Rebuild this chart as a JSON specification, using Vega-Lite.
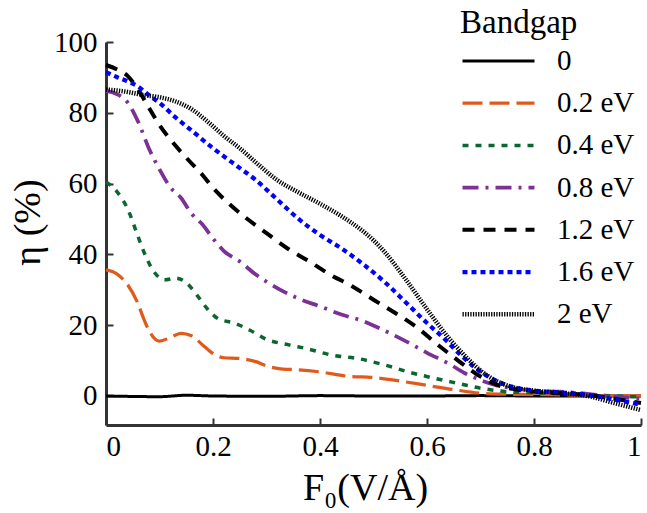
{
  "$schema": "https://vega.github.io/schema/vega-lite/v6.json",
  "width": 535,
  "height": 383,
  "autosize": {"type": "none"},
  "padding": {"left": 106, "top": 42, "right": 6, "bottom": 88},
  "background": "white",
  "config": {
    "font": "Liberation Serif, DejaVu Serif, Times, serif",
    "view": {"stroke": null},
    "axis": {"grid": false, "domainColor": "#333333", "domainWidth": 3, "tickColor": "#333333", "tickWidth": 2, "labelColor": "black", "titleColor": "black", "labelFont": "Liberation Serif, DejaVu Serif, Times, serif", "titleFont": "Liberation Serif, DejaVu Serif, Times, serif", "labelFontSize": 29, "titleFontSize": 38, "titleFontWeight": "normal"},
    "legend": {"labelFont": "Liberation Serif, DejaVu Serif, Times, serif", "titleFont": "Liberation Serif, DejaVu Serif, Times, serif", "labelFontSize": 29, "titleFontSize": 33, "titleFontWeight": "normal", "labelColor": "black", "titleColor": "black"}
  },
  "data": {"values": [
    {"x":0,"y":0,"g":"0"},{"x":0.1,"y":-0.2,"g":"0"},{"x":0.15,"y":0.2,"g":"0"},{"x":0.2,"y":0,"g":"0"},{"x":0.3,"y":-0.1,"g":"0"},{"x":0.4,"y":0.1,"g":"0"},{"x":0.5,"y":0,"g":"0"},{"x":0.6,"y":0,"g":"0"},{"x":0.7,"y":0.1,"g":"0"},{"x":0.8,"y":0,"g":"0"},{"x":0.9,"y":0,"g":"0"},{"x":1,"y":0,"g":"0"},

    {"x":0,"y":35.6,"g":"0.2 eV"},{"x":0.02,"y":34.5,"g":"0.2 eV"},{"x":0.04,"y":31.5,"g":"0.2 eV"},{"x":0.06,"y":26,"g":"0.2 eV"},{"x":0.07,"y":22,"g":"0.2 eV"},{"x":0.08,"y":18.6,"g":"0.2 eV"},{"x":0.1,"y":15.5,"g":"0.2 eV"},{"x":0.12,"y":16.5,"g":"0.2 eV"},{"x":0.14,"y":17.7,"g":"0.2 eV"},{"x":0.16,"y":17,"g":"0.2 eV"},{"x":0.18,"y":14.5,"g":"0.2 eV"},{"x":0.2,"y":12,"g":"0.2 eV"},{"x":0.22,"y":10.8,"g":"0.2 eV"},{"x":0.25,"y":10.6,"g":"0.2 eV"},{"x":0.28,"y":9.7,"g":"0.2 eV"},{"x":0.3,"y":8.5,"g":"0.2 eV"},{"x":0.33,"y":7.6,"g":"0.2 eV"},{"x":0.36,"y":7.4,"g":"0.2 eV"},{"x":0.4,"y":6.8,"g":"0.2 eV"},{"x":0.45,"y":5.6,"g":"0.2 eV"},{"x":0.5,"y":5.2,"g":"0.2 eV"},{"x":0.55,"y":4.2,"g":"0.2 eV"},{"x":0.6,"y":3,"g":"0.2 eV"},{"x":0.65,"y":1.8,"g":"0.2 eV"},{"x":0.7,"y":0.8,"g":"0.2 eV"},{"x":0.75,"y":0.5,"g":"0.2 eV"},{"x":0.8,"y":0.4,"g":"0.2 eV"},{"x":0.85,"y":0.3,"g":"0.2 eV"},{"x":0.9,"y":0.2,"g":"0.2 eV"},{"x":0.95,"y":0,"g":"0.2 eV"},{"x":1,"y":0,"g":"0.2 eV"},

    {"x":0,"y":60.5,"g":"0.4 eV"},{"x":0.02,"y":57.8,"g":"0.4 eV"},{"x":0.04,"y":53,"g":"0.4 eV"},{"x":0.06,"y":45,"g":"0.4 eV"},{"x":0.07,"y":41,"g":"0.4 eV"},{"x":0.09,"y":35,"g":"0.4 eV"},{"x":0.11,"y":32.8,"g":"0.4 eV"},{"x":0.13,"y":33.3,"g":"0.4 eV"},{"x":0.15,"y":32,"g":"0.4 eV"},{"x":0.17,"y":28.5,"g":"0.4 eV"},{"x":0.19,"y":24.5,"g":"0.4 eV"},{"x":0.21,"y":21.8,"g":"0.4 eV"},{"x":0.24,"y":20.6,"g":"0.4 eV"},{"x":0.27,"y":18.5,"g":"0.4 eV"},{"x":0.3,"y":16,"g":"0.4 eV"},{"x":0.34,"y":14.5,"g":"0.4 eV"},{"x":0.38,"y":13.2,"g":"0.4 eV"},{"x":0.42,"y":11.6,"g":"0.4 eV"},{"x":0.47,"y":10.6,"g":"0.4 eV"},{"x":0.52,"y":8.8,"g":"0.4 eV"},{"x":0.57,"y":6.6,"g":"0.4 eV"},{"x":0.62,"y":4.8,"g":"0.4 eV"},{"x":0.66,"y":3.5,"g":"0.4 eV"},{"x":0.7,"y":2.2,"g":"0.4 eV"},{"x":0.75,"y":1.2,"g":"0.4 eV"},{"x":0.8,"y":0.9,"g":"0.4 eV"},{"x":0.85,"y":0.6,"g":"0.4 eV"},{"x":0.9,"y":0.4,"g":"0.4 eV"},{"x":0.95,"y":0,"g":"0.4 eV"},{"x":1,"y":-0.3,"g":"0.4 eV"},

    {"x":0,"y":86.2,"g":"0.8 eV"},{"x":0.02,"y":85.3,"g":"0.8 eV"},{"x":0.04,"y":83,"g":"0.8 eV"},{"x":0.06,"y":77.5,"g":"0.8 eV"},{"x":0.08,"y":70,"g":"0.8 eV"},{"x":0.1,"y":64,"g":"0.8 eV"},{"x":0.12,"y":59,"g":"0.8 eV"},{"x":0.14,"y":56,"g":"0.8 eV"},{"x":0.16,"y":51.5,"g":"0.8 eV"},{"x":0.18,"y":48.5,"g":"0.8 eV"},{"x":0.2,"y":44.5,"g":"0.8 eV"},{"x":0.22,"y":41,"g":"0.8 eV"},{"x":0.25,"y":38,"g":"0.8 eV"},{"x":0.28,"y":34.3,"g":"0.8 eV"},{"x":0.32,"y":30.5,"g":"0.8 eV"},{"x":0.36,"y":27.5,"g":"0.8 eV"},{"x":0.4,"y":25.3,"g":"0.8 eV"},{"x":0.44,"y":23,"g":"0.8 eV"},{"x":0.48,"y":21.2,"g":"0.8 eV"},{"x":0.52,"y":18.5,"g":"0.8 eV"},{"x":0.56,"y":15.5,"g":"0.8 eV"},{"x":0.6,"y":12.2,"g":"0.8 eV"},{"x":0.64,"y":9.2,"g":"0.8 eV"},{"x":0.67,"y":6.5,"g":"0.8 eV"},{"x":0.7,"y":4.5,"g":"0.8 eV"},{"x":0.73,"y":3,"g":"0.8 eV"},{"x":0.76,"y":2.2,"g":"0.8 eV"},{"x":0.8,"y":1.5,"g":"0.8 eV"},{"x":0.85,"y":1.2,"g":"0.8 eV"},{"x":0.9,"y":0.6,"g":"0.8 eV"},{"x":0.95,"y":-0.2,"g":"0.8 eV"},{"x":1,"y":-0.8,"g":"0.8 eV"},

    {"x":0,"y":93.5,"g":"1.2 eV"},{"x":0.02,"y":92.3,"g":"1.2 eV"},{"x":0.04,"y":90.5,"g":"1.2 eV"},{"x":0.06,"y":86.5,"g":"1.2 eV"},{"x":0.08,"y":81.5,"g":"1.2 eV"},{"x":0.1,"y":76.5,"g":"1.2 eV"},{"x":0.12,"y":72.5,"g":"1.2 eV"},{"x":0.15,"y":67.3,"g":"1.2 eV"},{"x":0.18,"y":62.5,"g":"1.2 eV"},{"x":0.2,"y":58.8,"g":"1.2 eV"},{"x":0.23,"y":54.3,"g":"1.2 eV"},{"x":0.26,"y":50.5,"g":"1.2 eV"},{"x":0.3,"y":46,"g":"1.2 eV"},{"x":0.34,"y":41.6,"g":"1.2 eV"},{"x":0.38,"y":38,"g":"1.2 eV"},{"x":0.42,"y":34.2,"g":"1.2 eV"},{"x":0.46,"y":31,"g":"1.2 eV"},{"x":0.5,"y":27.2,"g":"1.2 eV"},{"x":0.54,"y":23.5,"g":"1.2 eV"},{"x":0.58,"y":19.5,"g":"1.2 eV"},{"x":0.62,"y":14.5,"g":"1.2 eV"},{"x":0.66,"y":9.8,"g":"1.2 eV"},{"x":0.7,"y":5.5,"g":"1.2 eV"},{"x":0.73,"y":3.2,"g":"1.2 eV"},{"x":0.76,"y":2,"g":"1.2 eV"},{"x":0.8,"y":1.2,"g":"1.2 eV"},{"x":0.85,"y":0.8,"g":"1.2 eV"},{"x":0.9,"y":0.3,"g":"1.2 eV"},{"x":0.95,"y":-0.8,"g":"1.2 eV"},{"x":1,"y":-2,"g":"1.2 eV"},

    {"x":0,"y":91.5,"g":"1.6 eV"},{"x":0.02,"y":90.1,"g":"1.6 eV"},{"x":0.04,"y":88.9,"g":"1.6 eV"},{"x":0.06,"y":87.4,"g":"1.6 eV"},{"x":0.08,"y":85,"g":"1.6 eV"},{"x":0.1,"y":82.8,"g":"1.6 eV"},{"x":0.13,"y":78.7,"g":"1.6 eV"},{"x":0.16,"y":75,"g":"1.6 eV"},{"x":0.2,"y":70,"g":"1.6 eV"},{"x":0.24,"y":65.5,"g":"1.6 eV"},{"x":0.28,"y":61,"g":"1.6 eV"},{"x":0.32,"y":55.5,"g":"1.6 eV"},{"x":0.36,"y":50,"g":"1.6 eV"},{"x":0.4,"y":45.5,"g":"1.6 eV"},{"x":0.44,"y":41.7,"g":"1.6 eV"},{"x":0.48,"y":37.3,"g":"1.6 eV"},{"x":0.52,"y":32.3,"g":"1.6 eV"},{"x":0.56,"y":26.5,"g":"1.6 eV"},{"x":0.6,"y":20.6,"g":"1.6 eV"},{"x":0.63,"y":16.5,"g":"1.6 eV"},{"x":0.66,"y":12,"g":"1.6 eV"},{"x":0.69,"y":8,"g":"1.6 eV"},{"x":0.72,"y":5,"g":"1.6 eV"},{"x":0.75,"y":3,"g":"1.6 eV"},{"x":0.8,"y":1.5,"g":"1.6 eV"},{"x":0.85,"y":1,"g":"1.6 eV"},{"x":0.9,"y":0.3,"g":"1.6 eV"},{"x":0.95,"y":-1,"g":"1.6 eV"},{"x":1,"y":-2.5,"g":"1.6 eV"},

    {"x":0,"y":86.6,"g":"2 eV"},{"x":0.04,"y":85.9,"g":"2 eV"},{"x":0.07,"y":85,"g":"2 eV"},{"x":0.1,"y":84.4,"g":"2 eV"},{"x":0.13,"y":83.2,"g":"2 eV"},{"x":0.16,"y":81,"g":"2 eV"},{"x":0.19,"y":77.5,"g":"2 eV"},{"x":0.22,"y":73.5,"g":"2 eV"},{"x":0.25,"y":70,"g":"2 eV"},{"x":0.28,"y":66,"g":"2 eV"},{"x":0.32,"y":61,"g":"2 eV"},{"x":0.36,"y":57.5,"g":"2 eV"},{"x":0.4,"y":54.3,"g":"2 eV"},{"x":0.44,"y":50.8,"g":"2 eV"},{"x":0.48,"y":46.6,"g":"2 eV"},{"x":0.5,"y":44,"g":"2 eV"},{"x":0.52,"y":40.8,"g":"2 eV"},{"x":0.56,"y":33,"g":"2 eV"},{"x":0.6,"y":24.5,"g":"2 eV"},{"x":0.64,"y":16.5,"g":"2 eV"},{"x":0.67,"y":11.5,"g":"2 eV"},{"x":0.7,"y":7.2,"g":"2 eV"},{"x":0.73,"y":4.2,"g":"2 eV"},{"x":0.76,"y":2.5,"g":"2 eV"},{"x":0.8,"y":1.5,"g":"2 eV"},{"x":0.85,"y":0.8,"g":"2 eV"},{"x":0.9,"y":0,"g":"2 eV"},{"x":0.95,"y":-2,"g":"2 eV"},{"x":1,"y":-4,"g":"2 eV"}
  ]},
  "mark": {"type": "line", "interpolate": "monotone", "strokeCap": "butt"},
  "encoding": {
    "x": {"field": "x", "type": "quantitative", "scale": {"domain": [0, 1], "nice": false},
      "axis": {"values": [0, 0.2, 0.4, 0.6, 0.8, 1], "format": "~g", "tickSize": -7, "labelPadding": 14, "title": "F₀(V/Å)", "titlePadding": 8, "titleX": 259}},
    "y": {"field": "y", "type": "quantitative", "scale": {"domain": [-8.2, 100], "nice": false, "zero": false},
      "axis": {"values": [0, 20, 40, 60, 80, 100], "tickSize": -7, "labelPadding": 16, "title": "η (%)", "titlePadding": 6, "titleY": 180}},
    "color": {"field": "g", "type": "nominal",
      "scale": {"domain": ["0", "0.2 eV", "0.4 eV", "0.8 eV", "1.2 eV", "1.6 eV", "2 eV"], "range": ["#000000", "#e05a1c", "#0b6630", "#7b3294", "#000000", "#0000ff", "#000000"]},
      "legend": {"title": "Bandgap", "orient": "none", "legendX": 354, "legendY": -35, "symbolType": "stroke", "symbolSize": 5184, "clipHeight": 28, "labelOffset": 20, "rowPadding": 13.2, "titlePadding": 7, "padding": 0}},
    "strokeDash": {"field": "g", "type": "nominal",
      "scale": {"domain": ["0", "0.2 eV", "0.4 eV", "0.8 eV", "1.2 eV", "1.6 eV", "2 eV"], "range": [[1, 0], [20, 7], [6, 7], [16, 7, 3, 7], [12, 9], [5, 4], [1.3, 1.3]]}},
    "strokeWidth": {"field": "g", "type": "nominal",
      "scale": {"domain": ["0", "0.2 eV", "0.4 eV", "0.8 eV", "1.2 eV", "1.6 eV", "2 eV"], "range": [3, 4.5, 5.3, 5, 2.6, 3, 5]}}
  }
}
